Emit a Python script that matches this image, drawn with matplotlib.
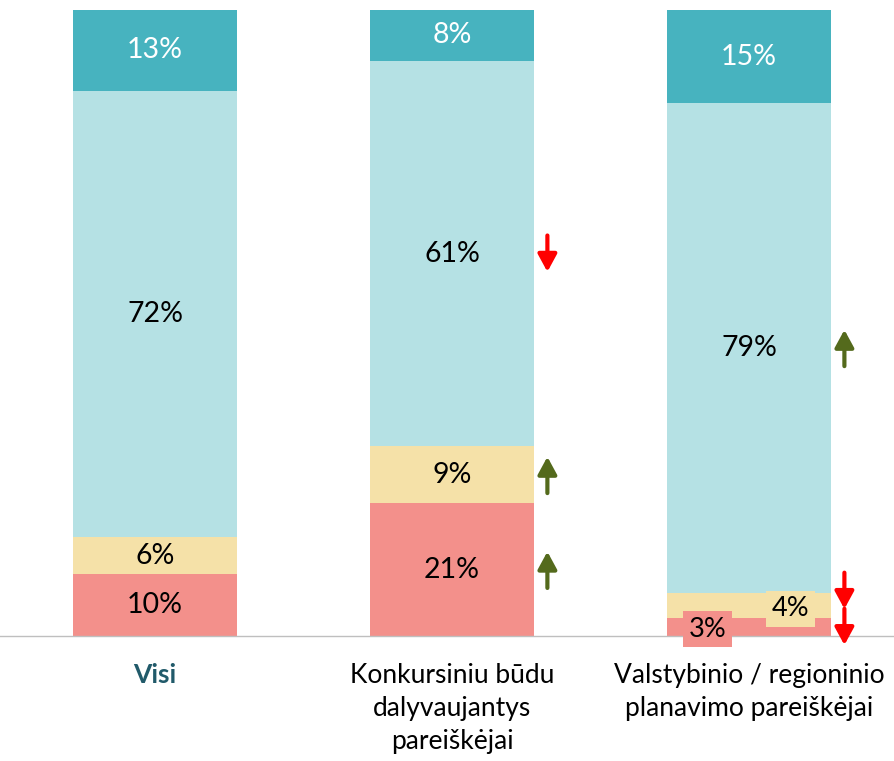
import matplotlib.pyplot as plt
import numpy as np

# Survey shares (%) per applicant group, stacked bottom-to-top
categories = ["Visi",
              "Konkursiniu būdu\ndalyvaujantys\npareiškėjai",
              "Valstybinio / regioninio\nplanavimo pareiškėjai"]
red_share = [10, 21, 3]
yellow_share = [6, 9, 4]
light_share = [72, 61, 79]
teal_share = [13, 8, 15]

# change markers next to segments: +1 up, -1 down, 0 none
red_change = [0, 1, -1]
yellow_change = [0, 1, -1]
light_change = [0, -1, 1]
teal_change = [0, 0, 0]

series = [red_share, yellow_share, light_share, teal_share]
changes = [red_change, yellow_change, light_change, teal_change]
colors = ["#F3908B", "#F5E1A8", "#B5E1E4", "#47B3BF"]
text_colors = ["black", "black", "black", "white"]

plt.rcParams["font.family"] = ["Lato", "DejaVu Sans"]

fig = plt.figure(figsize=(8.94, 7.61), dpi=100)
ax = fig.add_axes([0, 0.164, 1, 0.8226])

x = np.arange(len(categories))
width = 0.552
values = np.array(series, dtype=float)
totals = values.sum(axis=0)
shares = values / totals * 100

bottom = np.zeros(len(categories))
for k, (vals, col) in enumerate(zip(shares, colors)):
    ax.bar(x, vals, width, bottom=bottom, color=col, edgecolor="none")
    for i in range(len(categories)):
        mid = bottom[i] + vals[i] / 2
        label = f"{series[k][i]}%"
        # thin segments in the last bar get boxed labels placed side by side
        if vals[i] < 5.5 and i == 2:
            dx = -0.14 if k == 0 else 0.14
            dy = -0.4 if k == 0 else -0.6
            ax.text(x[i] + dx, mid + dy, label, ha="center", va="center",
                    fontsize=19.5, color=text_colors[k],
                    bbox=dict(boxstyle="square,pad=0.2", fc=col, ec="none"))
        else:
            ax.text(x[i], mid, label, ha="center", va="center",
                    fontsize=20.5, color=text_colors[k])
        d = changes[k][i]
        if d != 0:
            arrow_col = "#FF0000" if d < 0 else "#546A1C"
            ymid = mid
            if i == 2 and k == 1:
                ymid = mid + 2.3
            half = 2.9
            ax.annotate("", xy=(x[i] + width / 2 + 0.045, ymid + d * half),
                        xytext=(x[i] + width / 2 + 0.045, ymid - d * half),
                        arrowprops=dict(arrowstyle="-|>,head_length=0.7,head_width=0.38",
                                        mutation_scale=15, lw=3, color=arrow_col,
                                        shrinkA=0, shrinkB=0),
                        annotation_clip=False)
    bottom += vals

ax.set_xlim(-0.522, 2.488)
ax.set_ylim(0, 100)
for side in ["top", "right", "left"]:
    ax.spines[side].set_visible(False)
ax.spines["bottom"].set_color("#BFBFBF")
ax.spines["bottom"].set_linewidth(1)
ax.set_yticks([])
ax.set_xticks(x)
ax.set_xticklabels(categories, fontsize=19, linespacing=1.42, va="top")
ax.tick_params(axis="x", length=0, pad=19)
first = ax.get_xticklabels()[0]
first.set_fontweight("bold")
first.set_color("#215A6A")

fig.savefig("out.png", dpi=100)
